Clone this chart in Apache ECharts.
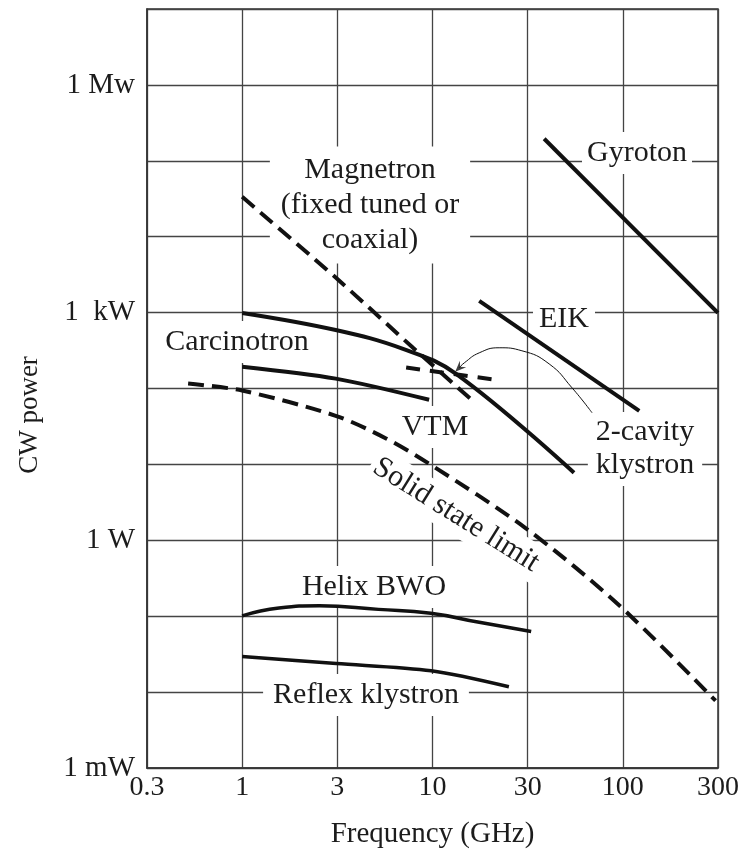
<!DOCTYPE html>
<html><head><meta charset="utf-8">
<script src="https://cdn.jsdelivr.net/npm/echarts@6/dist/echarts.min.js"></script>
<style>html,body{margin:0;padding:0;background:#fff}#c{width:743px;height:853px}</style>
</head><body><div id="c"></div>
<script>
// ---- tick labels ----
const xTickLabels = ['0.3', '1', '3', '10', '30', '100', '300'];
const yTickExponents = [-3, 0, 3, 6];
const yTickLabels = ['1 mW', '1 W', '1  kW', '1 Mw'];

// ---- series (frequency in GHz, CW power in W) ----
const magnetronFreq = [1, 3.1, 7.9, 16.7];
const magnetronPower = [33500, 2900, 344, 65];

const carcinotronFreq = [1, 3.1, 7, 13.3, 55.4];
const carcinotronPower = [990, 590, 333, 156, 7.75];

const vtmFreq = [1, 3.1, 9.6];
const vtmPower = [194, 135, 71];

const klystron2Freq = [7.27, 21.1];
const klystron2Power = [189, 131];

const solidStateFreq = [0.52, 1, 3.1, 5.7, 9.6, 30.7, 94, 307];
const solidStatePower = [116, 94, 43.7, 22, 10.2, 1.46, 0.145, 0.0077];

const eikFreq = [17.6, 122];
const eikPower = [1430, 50.8];

const gyrotonFreq = [38.6, 316];
const gyrotonPower = [195000, 990];

const helixFreq = [1, 1.56, 2.54, 5.2, 9.8, 17.6, 33];
const helixPower = [0.101, 0.128, 0.137, 0.123, 0.109, 0.083, 0.063];

const reflexFreq = [1, 3.12, 9.84, 25.2];
const reflexPower = [0.0294, 0.0238, 0.0191, 0.01175];

const arrowFreq = [68.9, 54.1, 41, 29.5, 22.4, 17.6, 14.7, 13.8];
const arrowPower = [47.9, 102, 211, 314, 344, 295, 218, 187];

// ---- helpers ----
const pairs = (f, p) => f.map((v, i) => [v, p[i]]);
const INK = '#111';
const SERIF = '"Liberation Serif", "Times New Roman", serif';
const DASH = [16, 8];

function curve(name, f, p, opts) {
  opts = opts || {};
  return {
    type: 'line', name: name, data: pairs(f, p),
    smooth: opts.smooth == null ? 0.3 : opts.smooth,
    showSymbol: false, symbol: 'none', silent: true, z: 3,
    lineStyle: { color: INK, width: opts.width || 4, type: opts.dash || 'solid', cap: 'butt' }
  };
}

const sq10 = Math.sqrt(10);

const labelBoxes = [
  { text: 'Magnetron\n(fixed tuned or\ncoaxial)', x: 370, y: 205, lineHeight: 35, padding: [6, 11] },
  { text: 'Gyroton', x: 637, y: 153, padding: [4, 5] },
  { text: 'EIK', x: 564, y: 319, padding: [3, 6] },
  { text: 'Carcinotron', x: 237, y: 342, padding: [4, 7] },
  { text: 'VTM', x: 435, y: 427, padding: [4, 6] },
  { text: '2-cavity\nklystron', x: 645, y: 449, lineHeight: 33, padding: [4, 8] },
  { text: 'Solid state limit', x: 456, y: 515, rotation: -32 * Math.PI / 180, padding: [2, 4] },
  { text: 'Helix BWO', x: 374, y: 587, padding: [4, 8] },
  { text: 'Reflex klystron', x: 366, y: 695, padding: [4, 10] }
];

const graphics = labelBoxes.map(b => ({
  type: 'text', x: b.x, y: b.y, rotation: b.rotation || 0, z: 1, silent: true,
  style: {
    text: b.text, fontSize: 30, fontFamily: SERIF, fill: '#1c1c1c',
    align: 'center', verticalAlign: 'middle',
    lineHeight: b.lineHeight || 34,
    backgroundColor: '#fff', padding: b.padding
  }
}));
graphics.push({
  type: 'text', x: 30, y: 415, rotation: Math.PI / 2, z: 1, silent: true,
  style: { text: 'CW power', fontSize: 27, fontFamily: SERIF, fill: '#1c1c1c', align: 'center', verticalAlign: 'middle' }
});

const chart = echarts.init(document.getElementById('c'), null, { renderer: 'canvas' });
chart.setOption({
  animation: false,
  backgroundColor: '#fff',
  grid: { left: 147, right: 25, top: 9, bottom: 85, show: true, borderColor: '#333', borderWidth: 1.5, outerBoundsMode: 'none', containLabel: false },
  xAxis: {
    type: 'log', logBase: sq10, min: 1 / sq10, max: 100 * sq10,
    splitNumber: 6,
    axisLine: { show: true, lineStyle: { color: '#333', width: 1.5 } },
    axisTick: { show: false },
    minorTick: { show: false },
    splitLine: { show: true, lineStyle: { color: '#444', width: 1.3 } },
    axisLabel: {
      show: true, showMinLabel: true, showMaxLabel: true, margin: 6,
      fontFamily: SERIF, fontSize: 28, color: '#1c1c1c',
      formatter: v => {
        const k = Math.round(Math.log(v) / Math.log(sq10)) + 1;
        return xTickLabels[k] || '';
      }
    },
    name: 'Frequency (GHz)', nameLocation: 'middle', nameGap: 52,
    nameTextStyle: { fontFamily: SERIF, fontSize: 29, color: '#1c1c1c' }
  },
  yAxis: {
    type: 'log', logBase: 10, min: 1e-3, max: 1e7,
    splitNumber: 10, interval: 1,
    axisLine: { show: true, lineStyle: { color: '#333', width: 1.5 } },
    axisTick: { show: false },
    minorTick: { show: false },
    splitLine: { show: true, lineStyle: { color: '#444', width: 1.3 } },
    axisLabel: {
      show: true, showMinLabel: true, showMaxLabel: true, margin: 12,
      fontFamily: SERIF, fontSize: 29, color: '#1c1c1c',
      formatter: v => {
        const e = Math.round(Math.log10(v));
        const i = yTickExponents.indexOf(e);
        return i >= 0 ? yTickLabels[i] : '';
      }
    }
  },
  graphic: graphics,
  series: [
    curve('Magnetron', magnetronFreq, magnetronPower, { dash: DASH, smooth: 0.2 }),
    curve('Carcinotron', carcinotronFreq, carcinotronPower, { smooth: 0.4 }),
    curve('VTM', vtmFreq, vtmPower, { smooth: 0.3 }),
    curve('2-cavity klystron', klystron2Freq, klystron2Power, { dash: [14, 10] }),
    curve('Solid state limit', solidStateFreq, solidStatePower, { dash: DASH, smooth: 0.3 }),
    curve('EIK', eikFreq, eikPower),
    curve('Gyroton', gyrotonFreq, gyrotonPower),
    curve('Helix BWO', helixFreq, helixPower, { width: 3.5, smooth: 0.5 }),
    curve('Reflex klystron', reflexFreq, reflexPower, { width: 3.5 }),
    curve('arrow', arrowFreq, arrowPower, { width: 1, smooth: 0.5 }),
    {
      type: 'scatter', silent: true, z: 4,
      data: [[arrowFreq[arrowFreq.length - 1], arrowPower[arrowPower.length - 1]]],
      symbol: 'path://M5,0 L10,11 L5,7 L0,11 Z', symbolSize: [9, 11], symbolRotate: 135,
      itemStyle: { color: INK }
    }
  ]
});
</script>
</body></html>
